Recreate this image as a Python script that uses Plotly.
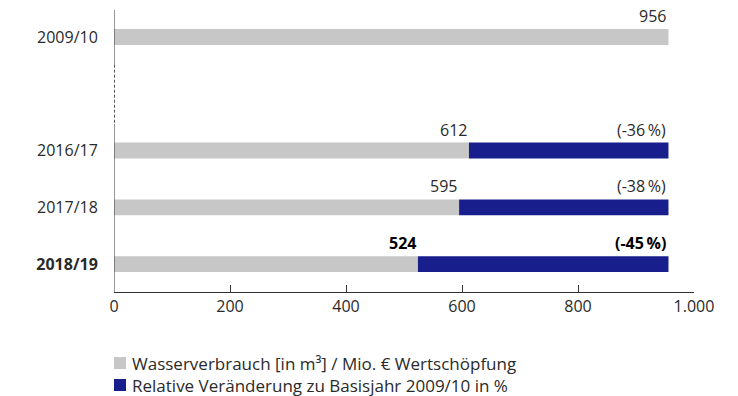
import plotly.graph_objects as go

# ---- data ----
categories = ["2009/10", "2016/17", "2017/18", "2018/19"]
positions = [0, 2, 3, 4]          # gap between base year and recent years
water = [956, 612, 595, 524]
change_pct = [None, -36, -38, -45]
highlight = [False, False, False, True]
base_value = water[0]
tick_vals = [0, 200, 400, 600, 800, 1000]
legend_labels = [
    "Wasserverbrauch [in m\u00b3] / Mio. \u20ac Wertsch\u00f6pfung",
    "Relative Ver\u00e4nderung zu Basisjahr 2009/10 in %",
]

GREY = "#c6c7c6"
NAVY = "#181e8c"
TEXT = "#2a2a2a"
FONT = "Open Sans"
BAR_W = 0.28

rest = [base_value - w if p is not None else 0 for w, p in zip(water, change_pct)]

fig = go.Figure()
fig.add_trace(go.Bar(
    orientation="h", y=positions, x=water, width=BAR_W,
    marker=dict(color=GREY, line=dict(width=0)), name=legend_labels[0],
    showlegend=False, hoverinfo="skip",
))
fig.add_trace(go.Bar(
    orientation="h", y=positions, x=rest, base=water, width=BAR_W,
    marker=dict(color=NAVY, line=dict(width=0)), name=legend_labels[1],
    showlegend=False, hoverinfo="skip",
))

def b(t, on):
    return f"<b>{t}</b>" if on else t

annotations = []
for pos, w, p, h in zip(positions, water, change_pct, highlight):
    annotations.append(dict(
        x=w, y=pos - BAR_W / 2, xref="x", yref="y", text=b(str(w), h),
        showarrow=False, xanchor="right", yanchor="bottom", yshift=0,
        font=dict(family=FONT, size=16, color="#000" if h else TEXT),
    ))
    if p is not None:
        annotations.append(dict(
            x=base_value, y=pos - BAR_W / 2, xref="x", yref="y",
            text=b(f"({p}\u2009%)", h),
            showarrow=False, xanchor="right", yanchor="bottom", yshift=0,
            font=dict(family=FONT, size=16, color="#000" if h else TEXT),
        ))

# manual legend
legend_rows = [(-71, GREY), (-93, NAVY)]
shapes = []
for (dy, col), lab in zip(legend_rows, legend_labels):
    shapes.append(dict(
        type="rect", xref="paper", yref="paper",
        xsizemode="pixel", ysizemode="pixel", xanchor=0, yanchor=0,
        x0=0, x1=12, y0=dy - 6, y1=dy + 6,
        fillcolor=col, line=dict(width=0),
    ))
    annotations.append(dict(
        x=0, y=0, xref="paper", yref="paper", xanchor="left", yanchor="middle",
        xshift=16, yshift=dy, text=lab, showarrow=False,
        font=dict(family=FONT, size=17, color=TEXT),
    ))

# y axis line with dotted break
ytop, ybot = -0.475, 4.49
for y0, y1, dash, col, wd in [
    (ytop, 0.49, "solid", "#333", 1),
    (0.49, 1.53, "3px,2px", "#111", 1.4),
    (1.53, ybot, "solid", "#333", 1),
]:
    shapes.append(dict(
        type="line", xref="x", yref="y", x0=0, x1=0, y0=y0, y1=y1,
        line=dict(color=col, width=wd, dash=dash), layer="above",
    ))

fig.update_layout(
    width=738, height=396,
    margin=dict(l=114, r=44, t=10, b=104),
    paper_bgcolor="white", plot_bgcolor="white",
    barmode="overlay", separators=",.",
    font=dict(family=FONT, size=16, color=TEXT),
    xaxis=dict(
        range=[0, 1000], tickvals=tick_vals, tickformat=",d",
        showline=True, linecolor="#333", linewidth=1,
        ticks="inside", ticklen=7, tickcolor="#333", tickwidth=1,
        showgrid=False, zeroline=False, fixedrange=True,
        tickfont=dict(family=FONT, size=16, color=TEXT),
    ),
    yaxis=dict(
        range=[ybot, ytop], tickvals=positions,
        ticktext=[b(c, h) for c, h in zip(categories, highlight)],
        showline=False, showgrid=False, zeroline=False,
        ticks="outside", ticklen=0, ticklabelstandoff=12, fixedrange=True,
        tickfont=dict(family=FONT, size=16, color=TEXT),
    ),
    annotations=annotations, shapes=shapes,
)

fig.write_html("out.html")
